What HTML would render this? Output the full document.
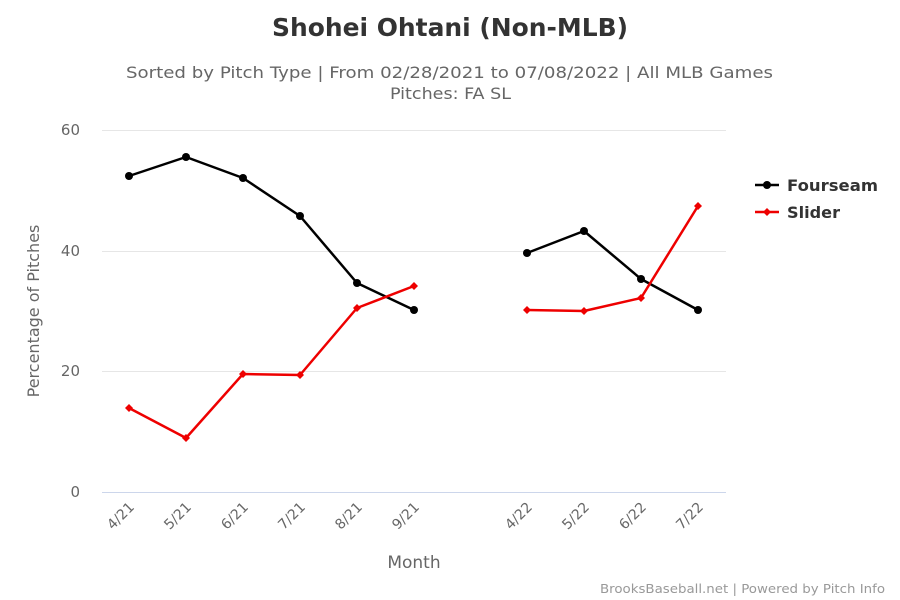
<!DOCTYPE html>
<html><head><meta charset="utf-8"><style>body{margin:0;background:#fff}svg{display:block;font-family:"DejaVu Sans","Liberation Sans",sans-serif}</style></head><body>
<svg width="900" height="600" viewBox="0 0 900 600">
<rect width="900" height="600" fill="#fff"/>
<text x="272" y="36" font-size="25" font-weight="bold" fill="#333" textLength="356" lengthAdjust="spacingAndGlyphs">Shohei Ohtani (Non-MLB)</text>
<text x="126" y="78" font-size="16" fill="#666" textLength="647" lengthAdjust="spacingAndGlyphs">Sorted by Pitch Type | From 02/28/2021 to 07/08/2022 | All MLB Games</text>
<text x="390" y="99" font-size="16" fill="#666" textLength="121" lengthAdjust="spacingAndGlyphs">Pitches: FA SL</text>
<g stroke="#e6e6e6" stroke-width="1">
<line x1="102" y1="130.5" x2="726" y2="130.5"/><line x1="102" y1="251.5" x2="726" y2="251.5"/><line x1="102" y1="371.5" x2="726" y2="371.5"/>
</g>
<line x1="102" y1="492.5" x2="726" y2="492.5" stroke="#ccd6eb"/>
<g font-size="15" fill="#666" text-anchor="end">
<text x="80" y="135">60</text><text x="80" y="256">40</text><text x="80" y="376">20</text><text x="80" y="497">0</text>
</g>
<text transform="translate(39,311) rotate(-90)" text-anchor="middle" font-size="16" fill="#666">Percentage of Pitches</text>
<g font-size="14" fill="#666" text-anchor="end">
<text transform="translate(135,508) rotate(-45)">4/21</text>
<text transform="translate(192,508) rotate(-45)">5/21</text>
<text transform="translate(249,508) rotate(-45)">6/21</text>
<text transform="translate(306,508) rotate(-45)">7/21</text>
<text transform="translate(363,508) rotate(-45)">8/21</text>
<text transform="translate(420,508) rotate(-45)">9/21</text>
<text transform="translate(533,508) rotate(-45)">4/22</text>
<text transform="translate(590,508) rotate(-45)">5/22</text>
<text transform="translate(647,508) rotate(-45)">6/22</text>
<text transform="translate(704,508) rotate(-45)">7/22</text>
</g>
<text x="414" y="568" text-anchor="middle" font-size="17" fill="#666">Month</text>
<g fill="none" stroke-width="2.5" stroke-linejoin="round">
<polyline stroke="#000" points="129,176 186,157 243,178 300,216 357,283 414,310"/>
<polyline stroke="#000" points="527,253 584,231 641,279 698,310"/>
<polyline stroke="#e00" points="129,408 186,438 243,374 300,375 357,308 414,286"/>
<polyline stroke="#e00" points="527,310 584,311 641,298 698,206"/>
</g>
<g fill="#000">
<circle cx="129" cy="176" r="4"/><circle cx="186" cy="157" r="4"/><circle cx="243" cy="178" r="4"/><circle cx="300" cy="216" r="4"/><circle cx="357" cy="283" r="4"/><circle cx="414" cy="310" r="4"/>
<circle cx="527" cy="253" r="4"/><circle cx="584" cy="231" r="4"/><circle cx="641" cy="279" r="4"/><circle cx="698" cy="310" r="4"/>
</g>
<g fill="#e00">
<path d="M129 404l4 4-4 4-4-4z"/><path d="M186 434l4 4-4 4-4-4z"/><path d="M243 370l4 4-4 4-4-4z"/><path d="M300 371l4 4-4 4-4-4z"/><path d="M357 304l4 4-4 4-4-4z"/><path d="M414 282l4 4-4 4-4-4z"/>
<path d="M527 306l4 4-4 4-4-4z"/><path d="M584 307l4 4-4 4-4-4z"/><path d="M641 294l4 4-4 4-4-4z"/><path d="M698 202l4 4-4 4-4-4z"/>
</g>
<line x1="755" y1="185" x2="779" y2="185" stroke="#000" stroke-width="2.5"/><circle cx="767" cy="185" r="4" fill="#000"/>
<text x="787" y="191" font-size="16" font-weight="bold" fill="#333" textLength="91" lengthAdjust="spacingAndGlyphs">Fourseam</text>
<line x1="755" y1="212" x2="779" y2="212" stroke="#e00" stroke-width="2.5"/><path d="M767 208l4 4-4 4-4-4z" fill="#e00"/>
<text x="787" y="218" font-size="16" font-weight="bold" fill="#333" textLength="53" lengthAdjust="spacingAndGlyphs">Slider</text>
<text x="600" y="593" font-size="12" fill="#999" textLength="285" lengthAdjust="spacingAndGlyphs">BrooksBaseball.net | Powered by Pitch Info</text>
</svg>
</body></html>
